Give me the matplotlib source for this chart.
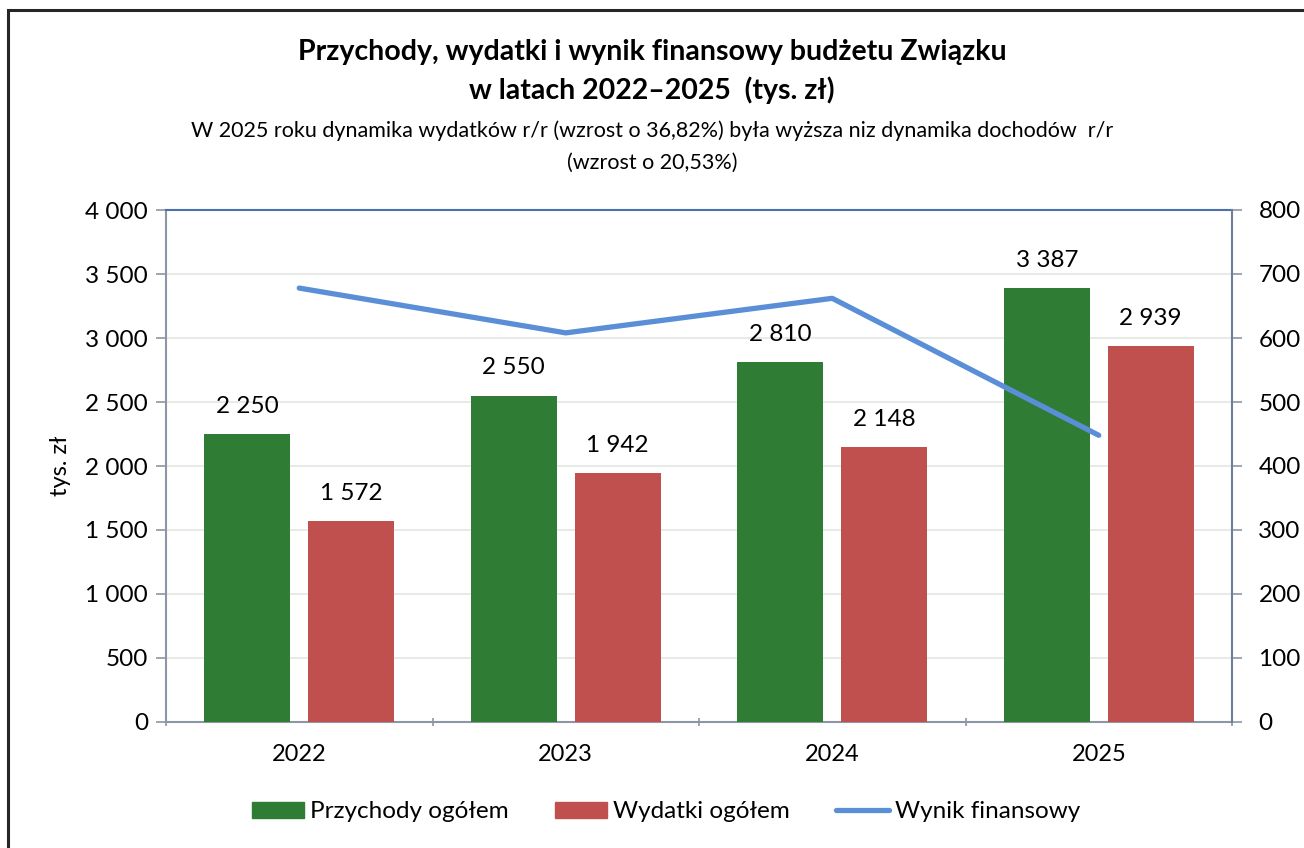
import matplotlib
matplotlib.use("Agg")
import matplotlib.pyplot as plt
import numpy as np
from matplotlib.patches import Rectangle, Patch
from matplotlib.lines import Line2D

plt.rcParams['font.family'] = ['Lato', 'DejaVu Sans']

years = ["2022", "2023", "2024", "2025"]
przychody = [2250, 2550, 2810, 3387]
wydatki = [1572, 1942, 2148, 2939]
wynik = [678, 608, 662, 448]

title1 = "Przychody, wydatki i wynik finansowy budżetu Związku"
title2 = "w latach 2022–2025  (tys. zł)"
sub1 = "W 2025 roku dynamika wydatków r/r (wzrost o 36,82%) była wyższa niz dynamika dochodów  r/r"
sub2 = "(wzrost o 20,53%)"

green = "#2F7D34"
red = "#C0504D"
blue = "#5A8FD8"

def fmt(v):
    return f"{v:,.0f}".replace(",", " ")

fig = plt.figure(figsize=(13.04, 8.48), dpi=100)
fig.patches.append(Rectangle((8/1304, -0.1), 1.2, (848-10)/848 + 0.1, transform=fig.transFigure,
                             fill=False, edgecolor="#262626", linewidth=2.2, zorder=0))

ax = fig.add_axes([166/1304, 126/848, 1066/1304, 512/848])
x = np.arange(len(years))
w = 0.323
off = 0.195
ax.bar(x - off, przychody, w, color=green, zorder=3, label="Przychody ogółem")
ax.bar(x + off, wydatki, w, color=red, zorder=3, label="Wydatki ogółem")
for xi, v in zip(x - off, przychody):
    ax.annotate(fmt(v), (xi, v), xytext=(0, 20), textcoords="offset points", ha="center", va="center", fontsize=17.5)
for xi, v in zip(x + off, wydatki):
    ax.annotate(fmt(v), (xi, v), xytext=(0, 20), textcoords="offset points", ha="center", va="center", fontsize=17.5)

ax.set_xlim(-0.5, 3.5)
ax.set_ylim(0, 4000)
ax.set_yticks(np.arange(0, 4001, 500))
ax.set_yticklabels([fmt(v) for v in np.arange(0, 4001, 500)], fontsize=17.5)
ax.set_xticks(x)
ax.set_xticklabels(years, fontsize=17)
ax.tick_params(axis="x", length=0, pad=16)
ax.set_xticks(np.arange(-0.5, 3.6, 1), minor=True)
ax.tick_params(axis="x", which="minor", length=6, direction="inout", color="#8C96A4", width=1.2)
ax.tick_params(axis="y", length=7, color="#8C96A4", width=1.2, pad=6)
ax.grid(axis="y", color="#E3E8E1", linewidth=1.2, zorder=0)
ax.set_axisbelow(True)
ax.set_ylabel("tys. zł", fontsize=17, labelpad=10)

for s in ["left", "bottom"]:
    ax.spines[s].set_color("#8C96A4")
    ax.spines[s].set_linewidth(1.5)
ax.spines["top"].set_color("#4A72B0")
ax.spines["top"].set_linewidth(1.5)
ax.spines["right"].set_visible(False)

ax2 = ax.twinx()
ax2.plot(x, wynik, color=blue, linewidth=3.8, solid_capstyle="round", zorder=4, label="Wynik finansowy")
ax2.set_ylim(0, 800)
ax2.set_yticks(np.arange(0, 801, 100))
ax2.set_yticklabels([str(v) for v in range(0, 801, 100)], fontsize=17.5)
ax2.tick_params(axis="y", length=7, color="#8C96A4", width=1.2, pad=12)
for s in ["left", "top", "bottom"]:
    ax2.spines[s].set_visible(False)
ax2.spines["right"].set_color("#6F7E96")
ax2.spines["right"].set_linewidth(1.5)

fig.text(0.5, 1 - 52/848, title1, ha="center", va="center", fontsize=20.5, fontweight="bold")
fig.text(0.5, 1 - 90/848, title2, ha="center", va="center", fontsize=20.5, fontweight="bold")
fig.text(0.5, 1 - 131/848, sub1, ha="center", va="center", fontsize=15.5)
fig.text(0.5, 1 - 163/848, sub2, ha="center", va="center", fontsize=15.5)

handles = [Patch(color=green, label="Przychody ogółem"),
           Patch(color=red, label="Wydatki ogółem"),
           Line2D([0], [0], color=blue, linewidth=3.8, solid_capstyle="round", label="Wynik finansowy")]
fig.legend(handles=handles, loc="center", bbox_to_anchor=(666/1304, 1 - 812/848), ncol=3, frameon=False,
           fontsize=17.5, handlelength=2.15, handleheight=0.6, columnspacing=1.9, handletextpad=0.25)

fig.savefig("out.png", dpi=100)
